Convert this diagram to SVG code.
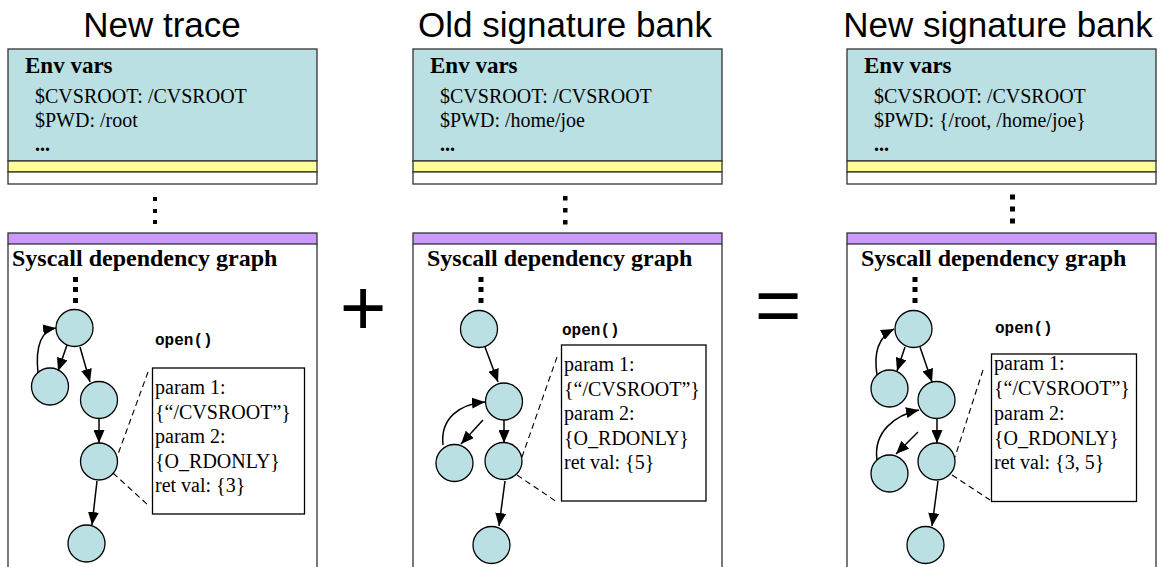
<svg xmlns="http://www.w3.org/2000/svg" width="1165" height="567" viewBox="0 0 1165 567">
<defs>
<style>
.title{font-family:"Liberation Sans",Arial,sans-serif;font-size:35px;fill:#000;text-anchor:middle}
.op{font-family:"Liberation Sans",Arial,sans-serif;font-size:80px;fill:#000;text-anchor:middle}
.hdr{font-family:"Liberation Serif","Times New Roman",serif;font-weight:bold;font-size:23px;fill:#000}
.sg{font-family:"Liberation Serif","Times New Roman",serif;font-weight:bold;font-size:24px;fill:#000}
.tx{font-family:"Liberation Serif","Times New Roman",serif;font-size:20px;fill:#000}
.code{font-family:"Liberation Mono","Courier New",monospace;font-weight:bold;font-size:16px;fill:#000}
.cyan{fill:#BBE0E3;stroke:#333;stroke-width:1.3}
.yel{fill:#FFFF99;stroke:#333;stroke-width:1.3}
.wht{fill:#fff;stroke:#333;stroke-width:1.3}
.pur{fill:#CC99FF;stroke:#333;stroke-width:1.3}
.frame{fill:none;stroke:#333;stroke-width:1.3}
.box{fill:#fff;stroke:#000;stroke-width:1.3}
.node{fill:#BBE0E3;stroke:#000;stroke-width:1.3}
.arr{fill:none;stroke:#000;stroke-width:1.5;marker-end:url(#ah)}
.dash{fill:none;stroke:#000;stroke-width:1.1;stroke-dasharray:6 4}
.dot{fill:#000}
</style>
<marker id="ah" markerUnits="userSpaceOnUse" markerWidth="13" markerHeight="11" refX="13" refY="5.5" orient="auto">
<path d="M0,0 L13,5.5 L0,11 z" fill="#000"/>
</marker>
</defs>
<rect width="1165" height="567" fill="#fff"/>

<g id="titles">
<text class="title" x="162" y="37">New trace</text>
<text class="title" x="565" y="37">Old signature bank</text>
<text class="title" x="998" y="37">New signature bank</text>
</g>

<g id="operators">
<text class="op" x="363" y="335">+</text>
<text class="op" x="778" y="332">=</text>
</g>

<!-- Panel 1 -->
<g id="env1">
<rect class="cyan" x="8" y="49" width="309" height="112"/>
<rect class="yel" x="8" y="161" width="309" height="11"/>
<rect class="wht" x="8" y="172" width="309" height="12"/>
<text class="hdr" x="25" y="73">Env vars</text>
<text class="tx" x="35" y="103">$CVSROOT: /CVSROOT</text>
<text class="tx" x="35" y="127">$PWD: /root</text>
<text class="tx" x="35" y="151" font-weight="bold">...</text>
</g>
<g id="envdots1" class="dot">
<rect x="153" y="197" width="4" height="4"/><rect x="153" y="209" width="4" height="4"/><rect x="153" y="220" width="4" height="4"/>
</g>
<g id="graph1">
<rect class="pur" x="8" y="233" width="309" height="11"/>
<path class="frame" d="M8,244 V580 M317,244 V580"/>
<text class="sg" x="12" y="266">Syscall dependency graph</text>
<g class="dot"><rect x="73" y="277" width="5" height="5"/><rect x="73" y="287" width="5" height="5"/><rect x="73" y="298" width="5" height="5"/></g>
</g>
<g id="p1-top"><circle class="node" cx="74.5" cy="328" r="18.5"/></g>
<g id="p1-left"><circle class="node" cx="50" cy="386.5" r="18.5"/></g>
<g id="p1-right"><circle class="node" cx="99" cy="400" r="18.5"/></g>
<g id="p1-open"><circle class="node" cx="99" cy="461.5" r="18.5"/></g>
<g id="p1-bottom"><circle class="node" cx="86.5" cy="543.5" r="18.5"/></g>
<g id="p1-detail">
<text class="code" x="155" y="345">open()</text>
<rect class="box" x="152.5" y="368" width="152" height="146"/>
<text class="tx" x="155" y="394">param 1:</text>
<text class="tx" x="155" y="418.5">{“/CVSROOT”}</text>
<text class="tx" x="155" y="443">param 2:</text>
<text class="tx" x="155" y="467.5">{O_RDONLY}</text>
<text class="tx" x="155" y="492">ret val: {3}</text>
</g>

<!-- Panel 2 -->
<g id="env2">
<rect class="cyan" x="413" y="49" width="309" height="112"/>
<rect class="yel" x="413" y="161" width="309" height="11"/>
<rect class="wht" x="413" y="172" width="309" height="12"/>
<text class="hdr" x="430" y="73">Env vars</text>
<text class="tx" x="440" y="103">$CVSROOT: /CVSROOT</text>
<text class="tx" x="440" y="127">$PWD: /home/joe</text>
<text class="tx" x="440" y="151" font-weight="bold">...</text>
</g>
<g id="envdots2" class="dot">
<rect x="563" y="196" width="4.5" height="4.5"/><rect x="563" y="208" width="4.5" height="4.5"/><rect x="563" y="220" width="4.5" height="4.5"/>
</g>
<g id="graph2">
<rect class="pur" x="413" y="233" width="309" height="11"/>
<path class="frame" d="M413,244 V580 M722,244 V580"/>
<text class="sg" x="427" y="266">Syscall dependency graph</text>
<g class="dot"><rect x="478.5" y="277" width="5" height="5"/><rect x="478.5" y="287" width="5" height="5"/><rect x="478.5" y="298" width="5" height="5"/></g>
</g>
<g id="p2-top"><circle class="node" cx="479" cy="329" r="18.5"/></g>
<g id="p2-second"><circle class="node" cx="504" cy="401.5" r="18.5"/></g>
<g id="p2-left"><circle class="node" cx="454.5" cy="463" r="18.5"/></g>
<g id="p2-open"><circle class="node" cx="503.5" cy="461" r="18.5"/></g>
<g id="p2-bottom"><circle class="node" cx="491.5" cy="545" r="18.5"/></g>
<g id="p2-detail">
<text class="code" x="562" y="335">open()</text>
<rect class="box" x="561.5" y="345" width="144.5" height="156"/>
<text class="tx" x="564" y="371">param 1:</text>
<text class="tx" x="564" y="395.5">{“/CVSROOT”}</text>
<text class="tx" x="564" y="420">param 2:</text>
<text class="tx" x="564" y="444.5">{O_RDONLY}</text>
<text class="tx" x="564" y="469">ret val: {5}</text>
</g>

<!-- Panel 3 -->
<g id="env3">
<rect class="cyan" x="847" y="49" width="309" height="112"/>
<rect class="yel" x="847" y="161" width="309" height="11"/>
<rect class="wht" x="847" y="172" width="309" height="12"/>
<text class="hdr" x="864" y="73">Env vars</text>
<text class="tx" x="874" y="103">$CVSROOT: /CVSROOT</text>
<text class="tx" x="874" y="127">$PWD: {/root, /home/joe}</text>
<text class="tx" x="874" y="151" font-weight="bold">...</text>
</g>
<g id="envdots3" class="dot">
<rect x="1010" y="194.5" width="5" height="5"/><rect x="1010" y="206.5" width="5" height="5"/><rect x="1010" y="218.5" width="5" height="5"/>
</g>
<g id="graph3">
<rect class="pur" x="847" y="233" width="309" height="11"/>
<path class="frame" d="M847,244 V580 M1156,244 V580"/>
<text class="sg" x="861" y="266">Syscall dependency graph</text>
<g class="dot"><rect x="912.5" y="277" width="5" height="5"/><rect x="912.5" y="287" width="5" height="5"/><rect x="912.5" y="298" width="5" height="5"/></g>
</g>
<g id="p3-top"><circle class="node" cx="913.5" cy="329" r="18.5"/></g>
<g id="p3-leftA"><circle class="node" cx="889.5" cy="388.5" r="18.5"/></g>
<g id="p3-second"><circle class="node" cx="936.5" cy="400" r="18.5"/></g>
<g id="p3-leftB"><circle class="node" cx="889.5" cy="473.5" r="18.5"/></g>
<g id="p3-open"><circle class="node" cx="936.5" cy="461.5" r="18.5"/></g>
<g id="p3-bottom"><circle class="node" cx="925.5" cy="545" r="18.5"/></g>
<g id="p3-detail">
<text class="code" x="995" y="333">open()</text>
<rect class="box" x="991.5" y="354" width="145" height="147.5"/>
<text class="tx" x="994" y="370">param 1:</text>
<text class="tx" x="994" y="395">{“/CVSROOT”}</text>
<text class="tx" x="994" y="420">param 2:</text>
<text class="tx" x="994" y="445">{O_RDONLY}</text>
<text class="tx" x="994" y="469">ret val: {3, 5}</text>
</g>

<g id="connectors">
<path class="arr" d="M67,345 L58,371"/>
<path class="arr" d="M80,347 L90,382"/>
<path class="arr" d="M99,419 L99,443"/>
<path class="arr" d="M97,481 L92,525"/>
<path class="arr" d="M38,373 C35,345 42,330 56,328"/>
<path class="dash" d="M148,372 L117,457"/>
<path class="dash" d="M113,473 L148,505"/>

<path class="arr" d="M485,347 L498,382"/>
<path class="arr" d="M483,420 L461,444"/>
<path class="arr" d="M504,420 L504,443"/>
<path class="arr" d="M505,481 L499,526"/>
<path class="arr" d="M443,445 C440,418 460,404 485,402"/>
<path class="dash" d="M557,357 L522,457"/>
<path class="dash" d="M517,475 L557,502"/>

<path class="arr" d="M905,347 L897,371"/>
<path class="arr" d="M920,347 L932,382"/>
<path class="arr" d="M918,432 L896,454"/>
<path class="arr" d="M937,419 L937,443"/>
<path class="arr" d="M938,481 L932,526"/>
<path class="arr" d="M877,375 C873,350 880,336 894,329"/>
<path class="arr" d="M877,460 C873,432 895,415 919,410"/>
<path class="dash" d="M983,370 L955,457"/>
<path class="dash" d="M952,475 L990,500"/>
</g>
</svg>
